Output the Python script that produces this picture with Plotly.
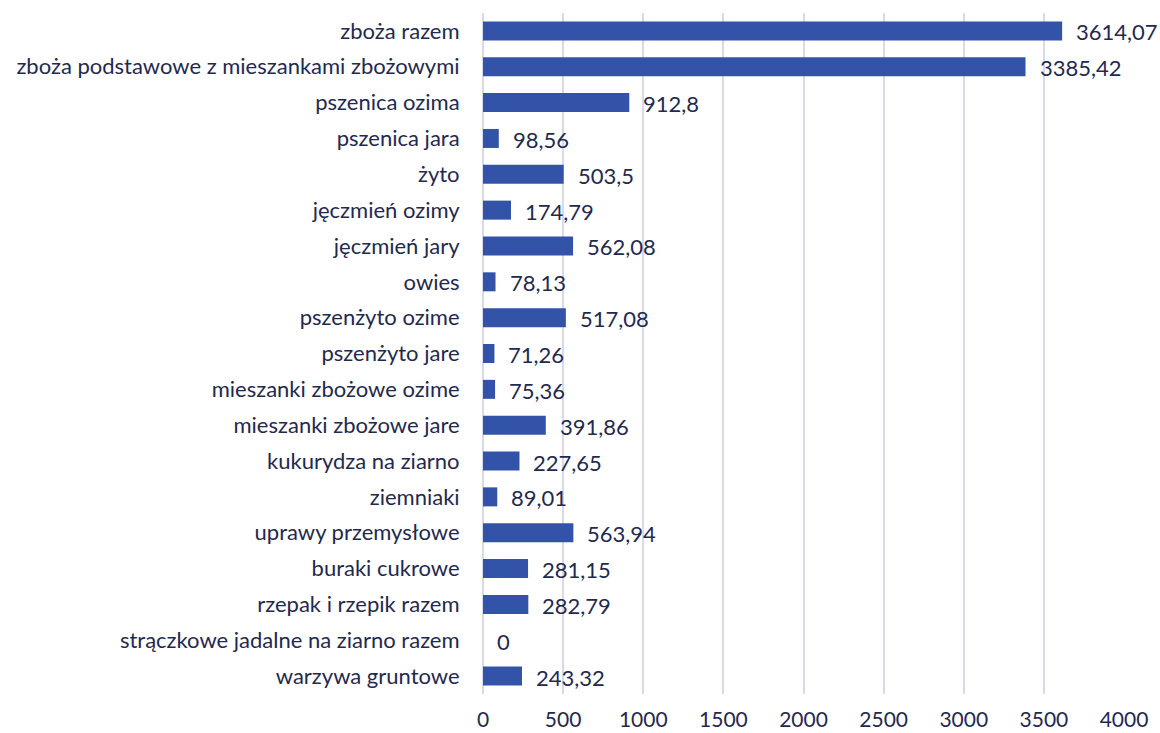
import plotly.graph_objects as go

categories = [
    "zboża razem",
    "zboża podstawowe z mieszankami zbożowymi",
    "pszenica ozima",
    "pszenica jara",
    "żyto",
    "jęczmień ozimy",
    "jęczmień jary",
    "owies",
    "pszenżyto ozime",
    "pszenżyto jare",
    "mieszanki zbożowe ozime",
    "mieszanki zbożowe jare",
    "kukurydza na ziarno",
    "ziemniaki",
    "uprawy przemysłowe",
    "buraki cukrowe",
    "rzepak i rzepik razem",
    "strączkowe jadalne na ziarno razem",
    "warzywa gruntowe",
]
values = [3614.07, 3385.42, 912.8, 98.56, 503.5, 174.79, 562.08, 78.13, 517.08,
          71.26, 75.36, 391.86, 227.65, 89.01, 563.94, 281.15, 282.79, 0, 243.32]
labels = [f"{v:g}".replace(".", ",") for v in values]
x_ticks = [0, 500, 1000, 1500, 2000, 2500, 3000, 3500, 4000]

FONT = "Lato"
TEXT = "#1f2a4f"
SIZE = 22

fig = go.Figure(
    go.Bar(
        x=values,
        y=categories,
        orientation="h",
        marker=dict(color="#3353a8", line=dict(width=0)),
    )
)

# value labels a little away from the bar ends
for cat, val, lab in zip(categories, values, labels):
    fig.add_annotation(
        x=val, y=cat, text=lab, showarrow=False,
        xanchor="left", yanchor="middle", xshift=12, yshift=-1,
        font=dict(family=FONT, size=SIZE, color=TEXT),
    )

fig.update_layout(
    width=1160,
    height=733,
    margin=dict(l=483, r=36, t=13, b=39),
    paper_bgcolor="white",
    plot_bgcolor="white",
    bargap=0.47,
    showlegend=False,
    font=dict(family=FONT, size=SIZE, color=TEXT),
)

fig.update_xaxes(
    range=[0, 4000],
    tickvals=x_ticks,
    ticktext=[str(t) for t in x_ticks],
    showgrid=True,
    gridcolor="#d9d9ee",
    gridwidth=1.5,
    zeroline=True,
    zerolinecolor="#d9d9ee",
    zerolinewidth=1.5,
    ticks="outside",
    ticklen=7,
    tickcolor="rgba(0,0,0,0)",
    tickfont=dict(family=FONT, size=21, color=TEXT),
    automargin=False,
)
fig.update_yaxes(
    autorange="reversed",
    showgrid=False,
    ticks="outside",
    ticklen=18,
    tickcolor="rgba(0,0,0,0)",
    tickfont=dict(family=FONT, size=SIZE, color=TEXT),
    automargin=False,
)

# drop the default page margin so the figure sits at the window corner
fig.write_html(
    "out.html",
    config={"displayModeBar": False},
    post_script="document.body.style.margin='0';",
)
